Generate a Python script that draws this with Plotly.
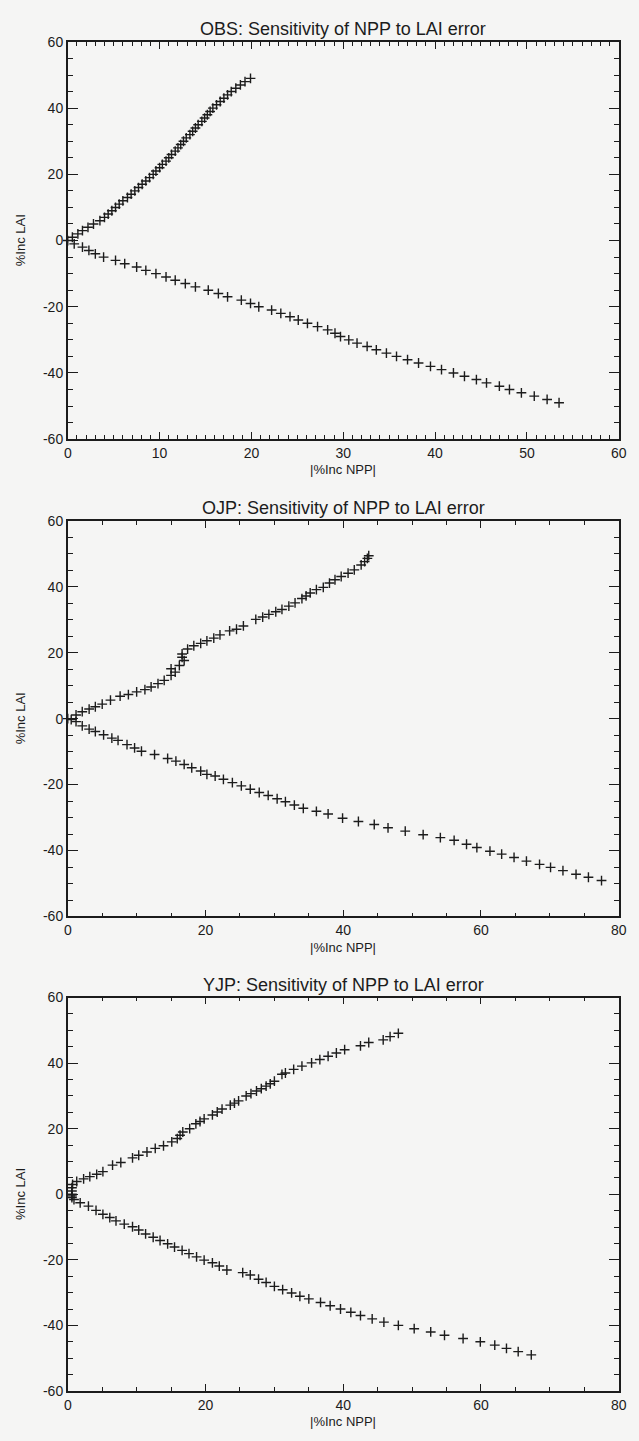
import plotly.graph_objects as go

# ---------------- data ----------------
titles = ["OBS: Sensitivity of NPP to LAI error",
          "OJP: Sensitivity of NPP to LAI error",
          "YJP: Sensitivity of NPP to LAI error"]
x_title = "|%Inc NPP|"
y_title = "%Inc LAI"

# OBS
obs_up_lai = list(range(0, 50))
obs_up_npp = [0.0, 0.5, 1.1, 1.6, 2.2, 2.8, 3.5, 4.0, 4.4, 4.8, 5.2, 5.6, 6.0, 6.5, 6.9,
              7.3, 7.7, 8.1, 8.5, 8.9, 9.3, 9.6, 10.0, 10.3, 10.7, 11.0, 11.3, 11.7, 12.0,
              12.3, 12.6, 12.9, 13.3, 13.6, 13.9, 14.2, 14.6, 14.9, 15.2, 15.5, 15.8, 16.2,
              16.6, 17.0, 17.4, 17.8, 18.3, 18.8, 19.3, 19.9]
obs_lo_lai = list(range(-1, -50, -1))
obs_lo_npp = [0.7, 1.6, 2.3, 3.0, 3.9, 5.2, 6.2, 7.5, 8.5, 9.6, 10.7, 11.7, 12.8, 13.9,
              15.3, 16.4, 17.4, 18.9, 19.9, 20.8, 22.2, 23.2, 24.2, 25.1, 26.1, 27.2, 28.3,
              29.1, 29.7, 30.6, 31.5, 32.6, 33.6, 34.7, 35.8, 37.0, 38.2, 39.5, 40.7, 42.0,
              43.2, 44.5, 45.6, 47.0, 48.1, 49.4, 50.8, 52.2, 53.5]

# OJP
ojp_up_npp = [0.0, 1.2, 2.1, 3.1, 4.0, 5.0, 6.2, 7.6, 8.8, 10.0, 11.2, 12.1, 13.1, 14.0,
              15.0, 15.6, 15.0, 16.2, 16.9, 16.6, 16.6, 17.4, 18.3, 19.3, 20.2, 21.2, 22.1,
              23.5, 24.5, 25.5, 27.3, 28.3, 29.2, 30.2, 31.1, 32.1, 33.0, 34.0, 34.6, 35.2,
              36.1, 37.1, 38.0, 38.8, 39.7, 40.7, 41.6, 42.6, 43.1, 43.5, 43.7]
ojp_up_lai = [0.0, 1.1, 2.1, 2.9, 3.6, 4.4, 5.6, 6.8, 7.3, 8.1, 8.8, 9.6, 10.6, 11.6,
              13.1, 14.1, 15.1, 16.1, 17.6, 18.6, 19.6, 21.1, 22.1, 22.8, 23.6, 24.4, 25.4,
              26.6, 27.1, 28.1, 30.1, 30.8, 31.6, 32.4, 33.1, 34.1, 35.1, 36.4, 37.2, 38.1,
              39.1, 39.8, 41.1, 42.1, 43.1, 44.1, 45.1, 46.6, 47.6, 48.6, 49.4]
ojp_lo_npp = [0.5, 1.2, 2.1, 3.1, 4.0, 5.2, 6.4, 7.3, 8.6, 9.7, 10.7, 12.6, 14.5, 15.7,
              16.9, 18.0, 19.3, 20.2, 21.4, 22.6, 23.9, 25.2, 26.5, 27.8, 29.1, 30.4, 31.6,
              32.9, 34.2, 36.1, 37.8, 39.9, 42.2, 44.5, 46.5, 49.0, 51.6, 54.1, 56.1, 57.9,
              59.4, 61.3, 63.0, 64.8, 66.6, 68.5, 70.1, 71.9, 73.8, 75.6, 77.5]
ojp_lo_lai = [-0.3, -0.9, -2.2, -3.2, -3.9, -4.9, -5.9, -6.6, -7.9, -8.9, -9.9, -10.9,
              -12.1, -12.9, -13.9, -14.9, -15.9, -16.9, -17.4, -18.4, -19.4, -20.4, -21.4,
              -22.4, -23.3, -24.3, -25.2, -26.2, -27.2, -28.1, -28.9, -30.2, -31.2, -32.1,
              -33.1, -34.1, -35.2, -36.1, -36.9, -38.1, -39.1, -40.2, -41.1, -42.1, -43.2,
              -44.2, -45.1, -46.1, -47.2, -48.1, -49.1]

# YJP
yjp_up_npp = [0.6, 0.6, 0.6, 0.7, 1.3, 2.3, 3.2, 4.2, 5.1, 6.5, 7.7, 9.4, 10.3, 11.5,
              12.7, 13.9, 15.1, 15.9, 16.3, 16.7, 17.7, 18.6, 19.2, 19.8, 21.0, 21.7, 22.4,
              23.6, 24.2, 24.8, 25.9, 26.6, 27.4, 28.1, 28.8, 29.4, 30.0, 31.1, 31.6, 32.8,
              34.0, 35.4, 36.6, 37.8, 39.0, 40.2, 42.5, 43.7, 45.8, 46.8, 48.0]
yjp_up_lai = [0.0, 1.0, 2.0, 3.0, 3.9, 4.7, 5.4, 6.1, 6.9, 8.9, 9.7, 11.1, 11.9, 12.9,
              14.0, 14.8, 16.0, 17.0, 18.0, 19.0, 20.0, 21.5, 22.2, 23.0, 24.2, 25.1, 26.0,
              27.2, 27.8, 28.5, 30.0, 30.7, 31.5, 32.2, 33.0, 33.7, 34.5, 36.6, 37.0, 38.1,
              39.1, 40.1, 41.1, 42.1, 43.1, 44.1, 45.3, 46.3, 47.1, 48.1, 49.1]
yjp_lo_npp = [0.6, 0.6, 0.9, 1.8, 3.0, 4.1, 5.1, 6.1, 7.0, 8.2, 9.4, 10.3, 11.3, 12.4,
              13.4, 14.5, 15.5, 16.6, 17.6, 18.7, 19.8, 21.0, 22.0, 23.1, 25.4, 26.5, 27.7,
              28.8, 30.0, 31.2, 32.5, 33.7, 35.0, 36.7, 38.1, 39.6, 41.1, 42.5, 44.2, 45.9,
              48.0, 50.3, 52.7, 54.7, 57.4, 59.9, 62.0, 63.7, 65.4, 67.3]
yjp_lo_lai = [-0.5, -1.0, -1.6, -2.6, -3.6, -4.9, -6.1, -7.1, -8.1, -9.1, -9.9, -10.9,
              -12.1, -13.1, -14.1, -15.1, -16.1, -17.1, -18.1, -19.1, -20.1, -20.9, -21.9,
              -23.1, -23.9, -24.6, -25.9, -26.9, -28.1, -29.1, -30.1, -31.1, -31.9, -33.0,
              -34.0, -35.0, -36.0, -37.0, -38.0, -39.0, -40.0, -41.0, -42.0, -43.0, -44.0,
              -45.0, -46.0, -47.0, -48.0, -49.0]

x_ranges = [[0, 60], [0, 80], [0, 80]]
x_dticks = [10, 20, 20]
x_minor = [1, 5, 5]
y_range = [-60, 60]
y_tickvals = [-60, -40, -20, 0, 20, 40, 60]
y_ticktext = ["-60", "-40", "-20", "0", "20", "40", "60"]

# ---------------- layout geometry ----------------
W, H = 639, 1441
boxes = [(34.3, 436.0), (518.5, 918.7), (1000.7, 1398.5)]
xdom = [65 / W, 626.5 / W]

INK = "#1c1c1c"
BG = "#f5f5f4"
FONT = "Liberation Sans, Arial, sans-serif"

fig = go.Figure()

series = [
    [(obs_up_npp, obs_up_lai), (obs_lo_npp, obs_lo_lai)],
    [(ojp_up_npp, ojp_up_lai), (ojp_lo_npp, ojp_lo_lai)],
    [(yjp_up_npp, yjp_up_lai), (yjp_lo_npp, yjp_lo_lai)],
]

marker = dict(symbol="cross-thin", size=7, color=INK,
              line=dict(width=1.4, color=INK))

for i, pair in enumerate(series):
    sfx = "" if i == 0 else str(i + 1)
    for xs, ys in pair:
        fig.add_trace(go.Scatter(x=xs, y=ys, mode="markers", marker=marker,
                                 xaxis="x" + sfx, yaxis="y" + sfx,
                                 cliponaxis=False, showlegend=False,
                                 hoverinfo="skip"))

layout = dict(width=W, height=H, margin=dict(l=0, r=0, t=0, b=0),
              paper_bgcolor=BG, plot_bgcolor=BG, showlegend=False,
              font=dict(family=FONT, size=14, color=INK))

annotations = []
for i in range(3):
    top, bot = boxes[i]
    ydom = [(H - bot) / H, (H - top) / H]
    sfx = "" if i == 0 else str(i + 1)
    axis_common = dict(showline=True, linewidth=1.6, linecolor=INK, mirror="ticks",
                       showgrid=False, zeroline=False, ticks="inside",
                       tickcolor=INK, tickwidth=1.2,
                       tickfont=dict(family=FONT, size=14, color=INK))
    layout["xaxis" + sfx] = dict(axis_common, domain=xdom, range=x_ranges[i],
                                 dtick=x_dticks[i], tick0=0, ticklen=7,
                                 anchor="y" + sfx,
                                 minor=dict(dtick=x_minor[i], ticklen=4,
                                            ticks="inside", tickcolor=INK,
                                            tickwidth=1.0, showgrid=False))
    layout["yaxis" + sfx] = dict(axis_common, domain=ydom, range=y_range,
                                 tickmode="array", tickvals=y_tickvals,
                                 ticktext=y_ticktext, ticklen=10,
                                 anchor="x" + sfx,
                                 minor=dict(dtick=5, tick0=0, ticklen=5, ticks="inside",
                                            tickcolor=INK, tickwidth=1.2,
                                            showgrid=False))
    annotations.append(dict(text=titles[i], xref="paper", yref="paper",
                            x=(xdom[0] + xdom[1]) / 2, y=(H - (top - 13)) / H,
                            showarrow=False, xanchor="center", yanchor="middle",
                            font=dict(family=FONT, size=18, color=INK)))
    annotations.append(dict(text=x_title, xref="paper", yref="paper",
                            x=(xdom[0] + xdom[1]) / 2, y=(H - (bot + 31)) / H,
                            showarrow=False, xanchor="center", yanchor="middle",
                            font=dict(family=FONT, size=13, color=INK)))
    annotations.append(dict(text=y_title, xref="paper", yref="paper",
                            x=17 / W, y=(H - (top + bot) / 2) / H, textangle=-90,
                            showarrow=False, xanchor="center", yanchor="middle",
                            font=dict(family=FONT, size=13, color=INK)))

layout["annotations"] = annotations
fig.update_layout(**layout)
fig.write_html("out.html")
